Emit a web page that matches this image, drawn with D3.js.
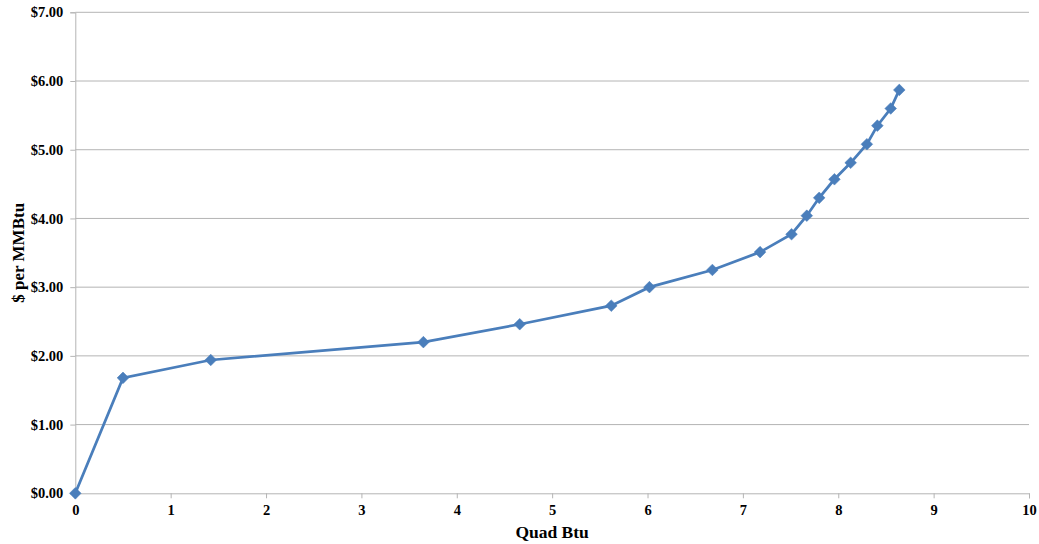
<!DOCTYPE html>
<html><head><meta charset="utf-8">
<script src="https://cdn.jsdelivr.net/npm/d3@7"></script>
<style>body{margin:0;background:#fff;} text{font-family:"Liberation Serif","Times New Roman",serif;font-weight:bold;}</style>
</head><body>
<svg id="c" width="1039" height="544"></svg>
<script>
const quadBtu = [0, 0.50, 1.42, 3.65, 4.66, 5.62, 6.02, 6.68, 7.18, 7.51, 7.67, 7.80, 7.96, 8.13, 8.30, 8.41, 8.55, 8.64];
const price   = [0, 1.68, 1.94, 2.20, 2.46, 2.73, 3.00, 3.25, 3.51, 3.77, 4.04, 4.30, 4.57, 4.81, 5.08, 5.35, 5.60, 5.87];
const xTicks = [0,1,2,3,4,5,6,7,8,9,10];
const yTicks = [0,1,2,3,4,5,6,7];
const xTitle = "Quad Btu";
const yTitle = "$ per MMBtu";

const svg = d3.select("#c");
const L = 75.3, R = 1029, T = 12.3, B = 493.3;
const x = d3.scaleLinear().domain([0,10]).range([L,R]);
const y = d3.scaleLinear().domain([0,7]).range([B,T]);

// gridlines
svg.append("g").selectAll("line").data(yTicks.filter(d=>d>0)).join("line")
  .attr("x1",L).attr("x2",R).attr("y1",d=>y(d)).attr("y2",d=>y(d))
  .attr("stroke","#b4b4b4").attr("stroke-width",1);

// y axis
const ya = svg.append("g").attr("transform",`translate(${L},0)`)
  .call(d3.axisLeft(y).tickValues(yTicks).tickFormat(d=>"$"+d.toFixed(2)).tickSize(5).tickPadding(7));
ya.select(".domain").attr("stroke","#b4b4b4");
ya.selectAll(".tick line").attr("stroke","#b4b4b4");
ya.selectAll("text").attr("font-size",14.5).attr("fill","#000")
  .attr("font-family",'"Liberation Serif",serif').attr("font-weight","bold");

// x axis
const xa = svg.append("g").attr("transform",`translate(0,${B})`)
  .call(d3.axisBottom(x).tickValues(xTicks).tickFormat(d3.format("d")).tickSize(5).tickPadding(6));
xa.select(".domain").attr("stroke","#b4b4b4");
xa.selectAll(".tick line").attr("stroke","#b4b4b4");
xa.selectAll("text").attr("font-size",14.5).attr("fill","#000")
  .attr("font-family",'"Liberation Serif",serif').attr("font-weight","bold");

// titles
svg.append("text").attr("x",(L+R)/2).attr("y",538).attr("text-anchor","middle")
  .attr("font-size",17.5).text(xTitle);
svg.append("text").attr("transform",`translate(24,${(T+B)/2}) rotate(-90)`).attr("text-anchor","middle")
  .attr("font-size",17).text(yTitle);

const data = quadBtu.map((q,i)=>[q,price[i]]);
svg.append("path").datum(data)
  .attr("d",d3.line().x(d=>x(d[0])).y(d=>y(d[1])))
  .attr("fill","none").attr("stroke","#4a7ebb").attr("stroke-width",2.75);

svg.append("g").selectAll("path").data(data).join("path")
  .attr("d",d3.symbol(d3.symbolSquare, 68)())
  .attr("transform",d=>`translate(${x(d[0])},${y(d[1])}) rotate(45)`)
  .attr("fill","#4a7ebb").attr("stroke","#4a7ebb").attr("stroke-width",0.5);
</script>
</body></html>
